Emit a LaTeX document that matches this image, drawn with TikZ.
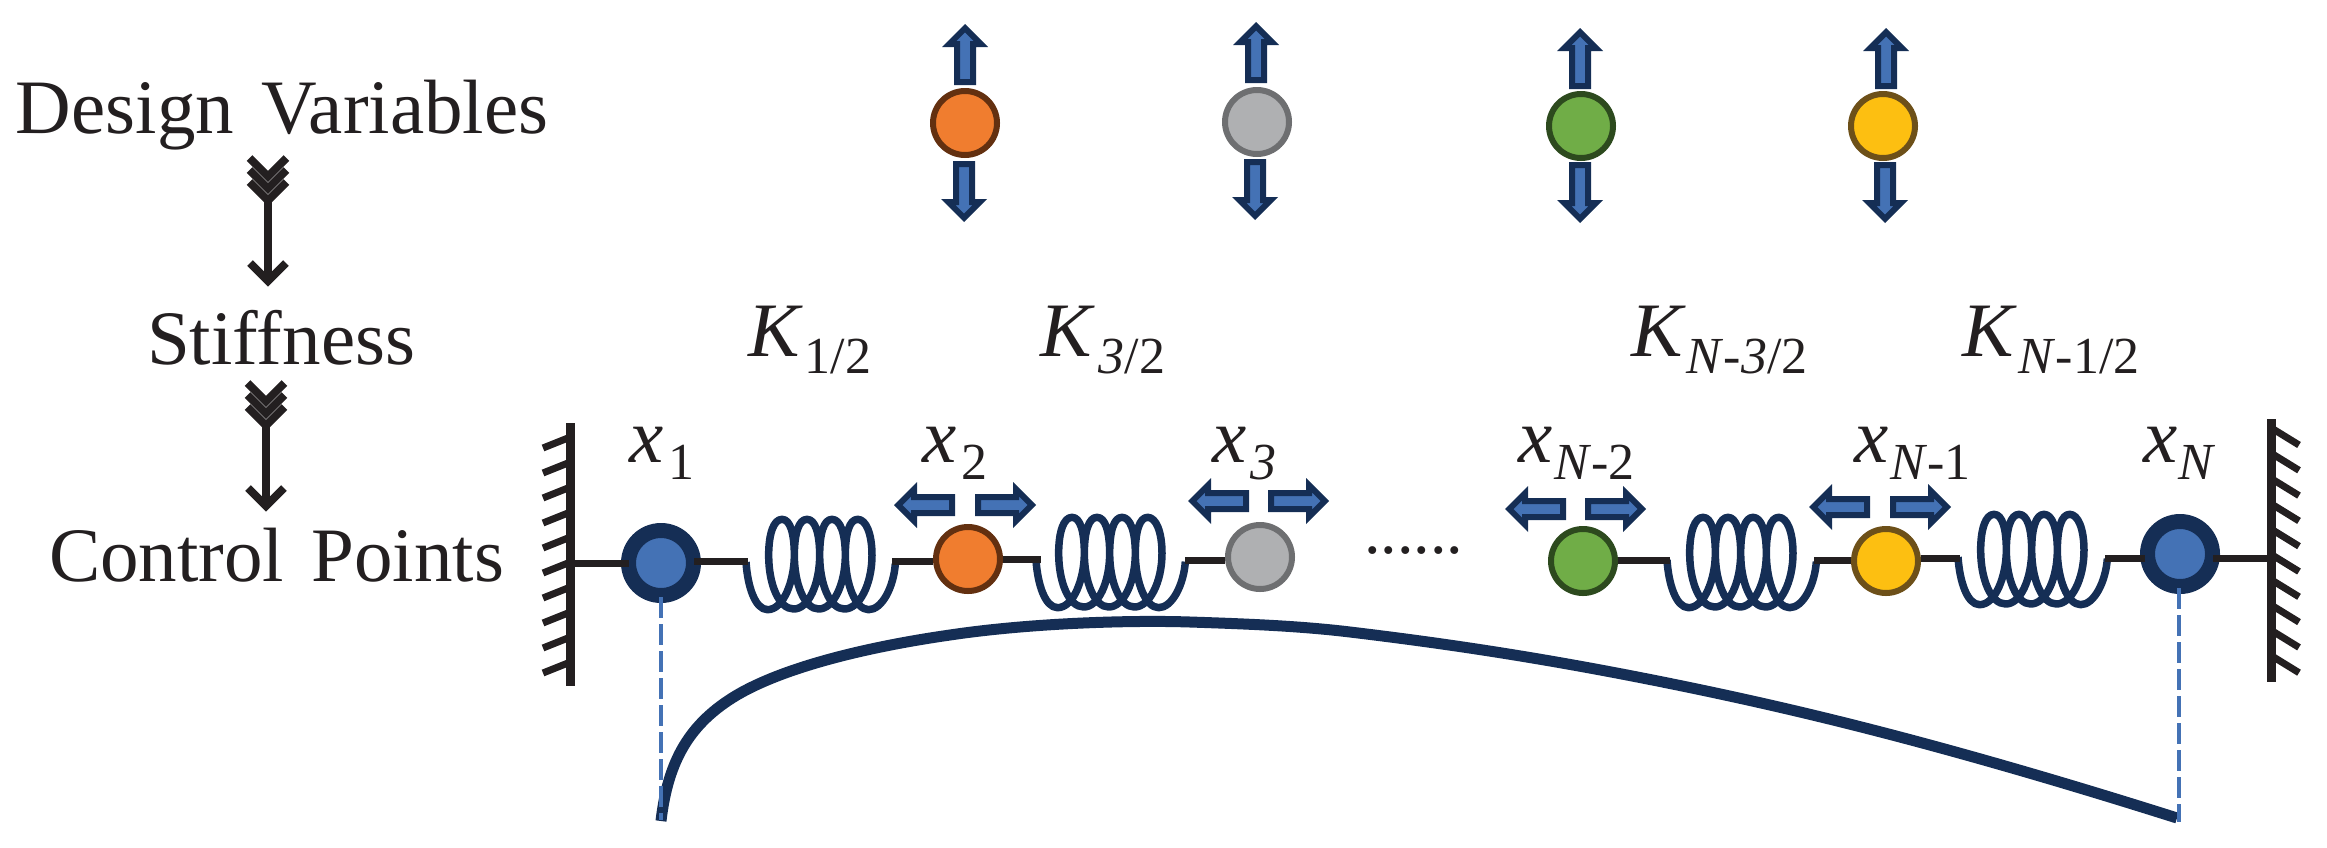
\documentclass[tikz,border=0pt]{standalone}
\usepackage{fontspec}
\setmainfont{Liberation Serif}
\definecolor{navy}{HTML}{152E55}
\definecolor{bluef}{HTML}{4472B5}
\definecolor{ink}{HTML}{231F20}
\definecolor{orangef}{HTML}{F07D2F}
\definecolor{oranged}{HTML}{633010}
\definecolor{grayf}{HTML}{AFB0B2}
\definecolor{grayd}{HTML}{6E6F71}
\definecolor{greenf}{HTML}{70AD47}
\definecolor{greend}{HTML}{2D4A1E}
\definecolor{yellowf}{HTML}{FDBF11}
\definecolor{yellowd}{HTML}{6D5019}
\newcommand{\bigf}{\fontsize{77}{80}\selectfont}
\newcommand{\subf}{\fontsize{52}{54}\selectfont}
\newcommand{\lbl}[3]{\textit{#1}\hspace{#2}\raisebox{-17pt}{\subf #3}}
\tikzset{
  x=1pt,y=-1pt,
  txt/.style={anchor=base west,inner sep=0pt,outer sep=0pt,font=\bigf,text=ink},
  mass/.style n args={2}{circle,inner sep=0pt,minimum size=64pt,line width=6pt,draw=#2,fill=#1},
  endmass/.style={circle,inner sep=0pt,minimum size=65pt,line width=15pt,draw=navy,fill=bluef},
  rod/.style={draw=ink,line width=7pt},
  flowline/.style={draw=ink,line width=8pt,line join=miter,line cap=butt},
  hatch/.style={draw=ink,line width=7pt},
  wall/.style={draw=ink,line width=9pt},
  drop/.style={draw=bluef,line width=3.2pt,dash pattern=on 20.5pt off 6.5pt},
  blockarrow/.pic={
    \path[draw=navy,fill=bluef,line width=6pt,line join=miter,miter limit=10]
      (-4.24,0) -- (-20,15.76) -- (-20,8) -- (-58,8) -- (-58,-8) -- (-20,-8) -- (-20,-15.76) -- cycle;
  },
  coilshape/.pic={
    \begin{scope}[scale=1/3,shift={(-47,-185)}]
    \path[draw=navy,line width=7.5pt,line cap=butt,line join=round]
      (47,185) .. controls (52,260) and (75,328) .. (112,328)
      .. controls (160,328) and (192,240) .. (192,165)
      .. controls (192,100) and (180,57) .. (155,57)
      .. controls (130,57) and (115,100) .. (115,165)
      .. controls (115,250) and (145,326) .. (190,326)
      .. controls (235,326) and (268,250) .. (268,165)
      .. controls (268,100) and (255,57) .. (230,57)
      .. controls (205,57) and (192,100) .. (192,165)
      .. controls (192,250) and (222,326) .. (265,326)
      .. controls (310,326) and (345,250) .. (345,165)
      .. controls (345,100) and (330,57) .. (305,57)
      .. controls (280,57) and (268,100) .. (268,165)
      .. controls (268,250) and (298,326) .. (342,326)
      .. controls (388,326) and (425,250) .. (425,165)
      .. controls (425,100) and (407,57) .. (382,57)
      .. controls (357,57) and (345,100) .. (345,165)
      .. controls (345,250) and (375,328) .. (415,328)
      .. controls (455,328) and (490,260) .. (495,190);
    \end{scope}
  },
}
\begin{document}
\begin{tikzpicture}
\useasboundingbox (0,0) rectangle (2327,847);

% left column
\node[txt] (dv) at (16,133) {Design\hspace{8.5pt} Variables};
\node[txt] (st) at (147,364) {Stiffness};
\node[txt] (cp) at (49,581) {Control\hspace{8pt} Points};

% flow arrows
\foreach \dx/\dy/\n in {0/0/a,-2/225/b}{
  \begin{scope}[shift={(\dx,\dy)}]
    \coordinate (\n s) at (268,199);
    \coordinate (\n t) at (268,281);
    \coordinate (\n l) at (250,263);
    \coordinate (\n r) at (286,263);
    \draw[flowline] (\n s) -- (\n t);
    \draw[flowline] (\n l) -- (\n t) -- (\n r);
    \foreach \o in {0,12,24}
      \draw[flowline] (249.5,158+\o) -- (268,176.5+\o) -- (286.5,158+\o);
  \end{scope}
}

% stiffness labels
\node[txt] (k1) at (748,356) {\lbl{K}{2pt}{1/2}};
\node[txt] (k2) at (1040,356) {\lbl{K}{4pt}{\textit{3}/2}};
\node[txt] (k3) at (1631,356) {\lbl{K}{1pt}{\textit{N}-\textit{3}/2}};
\node[txt] (k4) at (1962,356) {\lbl{K}{2pt}{\textit{N}-1/2}};

% position labels
\node[txt] (l1) at (629,462) {\lbl{x}{5pt}{1}};
\node[txt] (l2) at (922,462) {\lbl{x}{5pt}{2}};
\node[txt] (l3) at (1212,462) {\lbl{x}{4pt}{\textit{3}}};
\node[txt] (l4) at (1518,462) {\lbl{x}{2pt}{\textit{N}-2}};
\node[txt] (l5) at (1854,462) {\lbl{x}{2pt}{\textit{N}-1}};
\node[txt] (l6) at (2143,462) {\lbl{x}{1pt}{\textit{N}}};
\node[txt,font=\fontsize{66}{68}\selectfont] (dots) at (1364,553) {......};

% walls
\coordinate (wlt) at (570,423); \coordinate (wlb) at (570,686);
\coordinate (wrt) at (2271,419); \coordinate (wrb) at (2271,682);
\draw[wall] (wlt) -- (wlb);
\draw[wall] (wrt) -- (wrb);
\foreach \k in {0,...,9}{
  \draw[hatch] (543,448+25*\k) -- (568,438+25*\k);
  \draw[hatch] (2273,429+25.3*\k) -- (2299,445+25.3*\k);
}

% deflection curve
\draw[navy,line width=11pt,line join=round]
  (661,821) .. controls (668,760) and (690,723) .. (737,695)
  .. controls (790,664) and (880,645) .. (950,635)
  .. controls (1030,623) and (1130,620) .. (1190,622)
  .. controls (1250,624) and (1300,626) .. (1350,632)
  .. controls (1450,644) and (1560,660) .. (1711,692)
  .. controls (1800,711) and (1940,743) .. (2177,818);

% springs
\coordinate (s1a) at (746,562);  \coordinate (s1b) at (895,563);
\coordinate (s2a) at (1036,560); \coordinate (s2b) at (1186,561);
\coordinate (s3a) at (1667,560); \coordinate (s3b) at (1816,561);
\coordinate (s4a) at (1958,557); \coordinate (s4b) at (2107,558);
\pic at (s1a) {coilshape};
\pic at (s2a) {coilshape};
\pic at (s3a) {coilshape};
\pic at (s4a) {coilshape};

% lower row masses
\node[endmass] (x1) at (661,563) {};
\node[mass={orangef}{oranged}] (x2) at (968,559) {};
\node[mass={grayf}{grayd}] (x3) at (1260,557) {};
\node[mass={greenf}{greend}] (xa) at (1583,561) {};
\node[mass={yellowf}{yellowd}] (xb) at (1886,561) {};
\node[endmass] (xn) at (2180,554) {};

% rods
\coordinate (r1a) at (566,563);  \coordinate (r1b) at (629,563);
\coordinate (r2a) at (694,561);  \coordinate (r2b) at (748,561);
\coordinate (r3a) at (892,561);
\coordinate (r4b) at (1041,559);
\coordinate (r5a) at (1185,560);
\coordinate (r6b) at (1670,560);
\coordinate (r7a) at (1814,560);
\coordinate (r8b) at (1960,558);
\coordinate (r9a) at (2105,558); \coordinate (r9b) at (2145,558);
\coordinate (r10a) at (2213,558); \coordinate (r10b) at (2275,558);
\draw[rod] (r1a) -- (r1b);
\draw[rod] (r2a) -- (r2b);
\draw[rod] (r3a) -- (r3a -| x2.west);
\draw[rod] (r4b -| x2.east) -- (r4b);
\draw[rod] (r5a) -- (r5a -| x3.west);
\draw[rod] (r6b -| xa.east) -- (r6b);
\draw[rod] (r7a) -- (r7a -| xb.west);
\draw[rod] (r8b -| xb.east) -- (r8b);
\draw[rod] (r9a) -- (r9b);
\draw[rod] (r10a) -- (r10b);

% horizontal arrows
\pic[rotate=180] at (894,505) {blockarrow};
\pic at (1036,505) {blockarrow};
\pic[rotate=180] at (1188,501) {blockarrow};
\pic at (1329,501) {blockarrow};
\pic[rotate=180] at (1505,509) {blockarrow};
\pic at (1646,509) {blockarrow};
\pic[rotate=180] at (1809,507) {blockarrow};
\pic at (1951,507) {blockarrow};

% dashed drop lines
\coordinate (d1a) at (661,597); \coordinate (d1b) at (661,820);
\coordinate (d2a) at (2179,588); \coordinate (d2b) at (2179,822);
\draw[drop] (d1a) -- (d1b);
\draw[drop] (d2a) -- (d2b);

% top row
\node[mass={orangef}{oranged}] (t1) at (965,123) {};
\node[mass={grayf}{grayd}] (t2) at (1257,122) {};
\node[mass={greenf}{greend}] (t3) at (1581,126) {};
\node[mass={yellowf}{yellowd}] (t4) at (1883,126) {};
\pic[rotate=90] at (965,24) {blockarrow};
\pic[rotate=-90] at (964,222) {blockarrow};
\pic[rotate=90] at (1256,22) {blockarrow};
\pic[rotate=-90] at (1255,220) {blockarrow};
\pic[rotate=90] at (1580,28) {blockarrow};
\pic[rotate=-90] at (1580,223) {blockarrow};
\pic[rotate=90] at (1886,28) {blockarrow};
\pic[rotate=-90] at (1885,223) {blockarrow};
\end{tikzpicture}
\end{document}
